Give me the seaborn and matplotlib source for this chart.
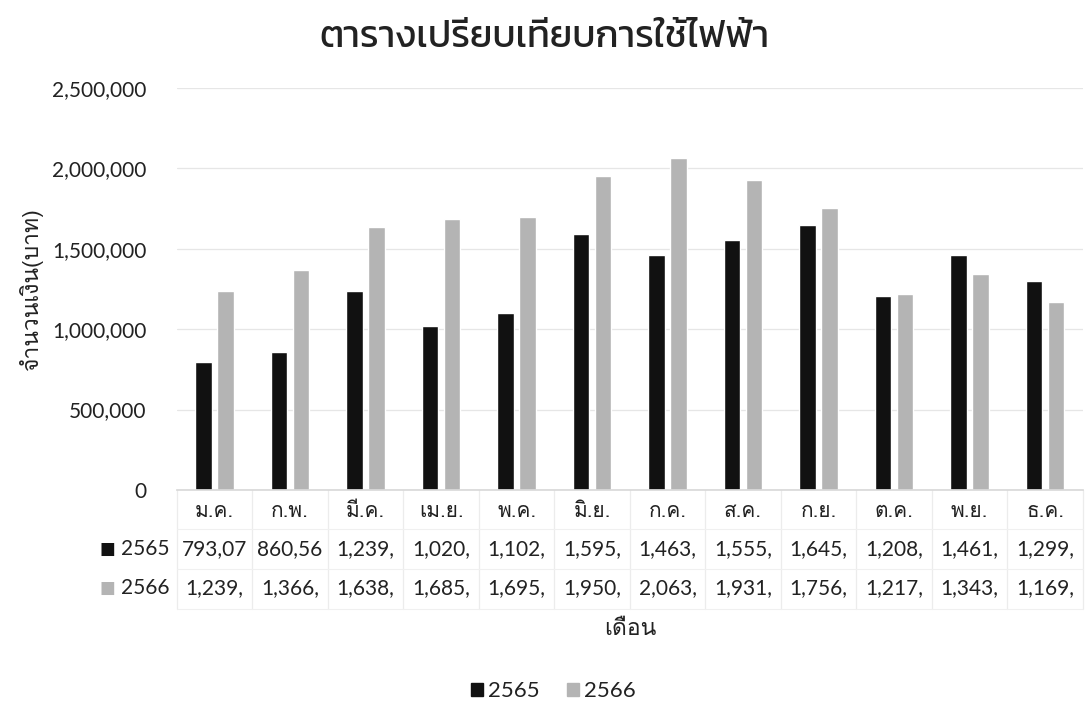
import matplotlib
matplotlib.use("Agg")
import numpy as np
import pandas as pd
import matplotlib.pyplot as plt
import matplotlib.transforms as mtransforms
from matplotlib.patches import Patch
from matplotlib.ticker import FuncFormatter
import seaborn as sns

# ข้อมูล ==============================================================
months = ['ม.ค.', 'ก.พ.', 'มี.ค.', 'เม.ย.', 'พ.ค.', 'มิ.ย.',
          'ก.ค.', 'ส.ค.', 'ก.ย.', 'ต.ค.', 'พ.ย.', 'ธ.ค.']
years = ['2565', '2566']
values_2565 = [793070, 860560, 1239000, 1020000, 1102000, 1595000,
               1463000, 1555000, 1645000, 1208000, 1461000, 1299000]
values_2566 = [1239000, 1366000, 1638000, 1685000, 1695000, 1950000,
               2063000, 1931000, 1756000, 1217000, 1343000, 1169000]
y_ticks = [0, 500000, 1000000, 1500000, 2000000, 2500000]

title = 'ตารางเปรียบเทียบการใช้ไฟฟ้า'
x_label = 'เดือน'
y_label = 'จำนวนเงิน(บาท)'

colors = {'2565': '#111111', '2566': '#b4b4b4'}

df = pd.DataFrame({
    'เดือน': months * 2,
    'ปี': ['2565'] * len(months) + ['2566'] * len(months),
    'ค่าไฟ': values_2565 + values_2566,
})

# รูปแบบ ==============================================================
sns.set_theme(style="white")
plt.rcParams['font.family'] = ['Lato', 'Loma', 'DejaVu Sans']
text_col = '#222222'
thai = ['Loma', 'DejaVu Sans']

fig = plt.figure(figsize=(10.85, 7.07), dpi=100)
ax = fig.add_axes([0.163, 0.307, 0.835, 0.5685])

sns.barplot(data=df, x='เดือน', y='ค่าไฟ', hue='ปี', order=months,
            hue_order=years, palette=colors, width=0.584, gap=0.25,
            legend=False, ax=ax, saturation=1)

ax.set_xlim(-0.5, len(months) - 0.5)
ax.set_ylim(0, 2500000)
ax.set_yticks(y_ticks)
ax.yaxis.set_major_formatter(FuncFormatter(lambda v, p: f'{int(v):,}'))
ax.tick_params(axis='y', labelsize=15, colors=text_col, length=0, pad=22)
ax.tick_params(axis='x', labelsize=15, colors=text_col, length=0, pad=9)
ax.grid(axis='y', color='#e6e6e6', linewidth=0.9)
ax.set_axisbelow(True)
for s in ['top', 'right', 'left']:
    ax.spines[s].set_visible(False)
ax.spines['bottom'].set_color('#d9d9d9')

ax.set_xlabel(x_label, fontsize=16.5, color=text_col, family=thai)
ax.xaxis.set_label_coords(0.5, -0.32)
ax.set_ylabel(y_label, fontsize=16.5, color=text_col, family=thai)
ax.yaxis.set_label_coords(-0.148, 0.5)
for lab in ax.get_xticklabels():
    lab.set_family(thai)

# ตารางข้อมูลใต้กราฟ
trans = mtransforms.blended_transform_factory(ax.transData, ax.transAxes)
row_y = [-0.146, -0.245]
for yr, vals, ry in zip(years, [values_2565, values_2566], row_y):
    ax.text(-0.068, ry, '■', transform=ax.transAxes, ha='right', va='center',
            fontsize=12, color=colors[yr], family=['DejaVu Sans'])
    ax.text(-0.008, ry, yr, transform=ax.transAxes, ha='right', va='center',
            fontsize=15, color=text_col)
    for i, v in enumerate(vals):
        ax.text(i, ry, f'{v:,}'[:6], transform=trans, ha='center',
                va='center', fontsize=15, color=text_col)

for i in range(len(months) + 1):
    ax.plot([i - 0.5, i - 0.5], [0, -0.295], transform=trans, color='#ececec',
            linewidth=0.9, clip_on=False)
for ry in [-0.097, -0.196, -0.295]:
    ax.plot([-0.5, len(months) - 0.5], [ry, ry], transform=trans,
            color='#f0f0f0', linewidth=0.8, clip_on=False)

fig.text(0.502, 0.946, title, ha='center', va='center', fontsize=27,
         color=text_col, family=['Kanit'])

handles = [Patch(color=colors[y], label=y) for y in years]
fig.legend(handles=handles, loc='center', bbox_to_anchor=(0.51, 0.022),
           ncol=2, frameon=False, fontsize=16, handlelength=0.55,
           handleheight=0.55, handletextpad=0.25, columnspacing=1.2,
           labelcolor=text_col)

fig.savefig('out.png', dpi=100)
